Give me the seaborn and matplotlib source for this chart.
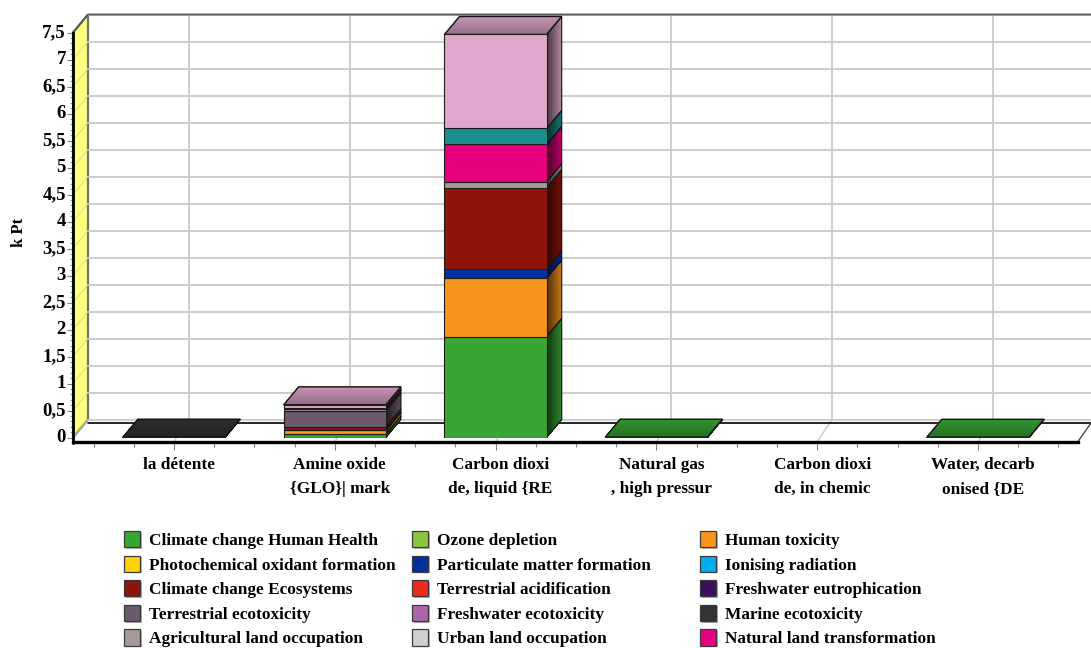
import numpy as np
import pandas as pd
import matplotlib
matplotlib.use("Agg")
import matplotlib.pyplot as plt
import matplotlib.patheffects as pe
from matplotlib.patches import Patch, Polygon
from matplotlib.transforms import Affine2D, IdentityTransform
from matplotlib.ticker import MultipleLocator
import seaborn as sns

# Produits
products = ["la détente", "Amine oxide\n{GLO}| mark", "Carbon dioxi\nde, liquid {RE",
            "Natural gas\n, high pressur", "Carbon dioxi\nde, in chemic", "Water, decarb\nonised {DE"]

# Categories d'impact (les deux dernieres n'ont pas de ligne de legende)
impacts = ["Climate change Human Health", "Ozone depletion", "Human toxicity",
           "Photochemical oxidant formation", "Particulate matter formation", "Ionising radiation",
           "Climate change Ecosystems", "Terrestrial acidification", "Freshwater eutrophication",
           "Terrestrial ecotoxicity", "Freshwater ecotoxicity", "Marine ecotoxicity",
           "Agricultural land occupation", "Urban land occupation", "Natural land transformation",
           "Metal depletion", "Fossil depletion"]
colors = ["#38a635", "#8cc63f", "#f9951f", "#ffd200", "#0030a0", "#00aeef", "#8f1408", "#ee2a1b",
          "#3c0f5e", "#6a5a6c", "#ab66ab", "#333333", "#a79a98", "#cfcfcf", "#e6007e", "#1b8f8c", "#e0a7cc"]

# Valeurs en kPt, une liste par produit
la_detente = [0, 0, 0, 0, 0, 0, 0, 0, 0, 0, 0, 0.006, 0, 0, 0, 0, 0]
amine_oxide = [0.06, 0, 0.07, 0, 0.005, 0, 0.06, 0, 0, 0.30, 0, 0, 0.04, 0, 0.015, 0.005, 0.05]
co2_liquid = [1.87, 0, 1.08, 0, 0.167, 0, 1.51, 0, 0, 0, 0, 0, 0.11, 0, 0.69, 0.296, 1.74]
natural_gas = [0.006, 0, 0, 0, 0, 0, 0, 0, 0, 0, 0, 0, 0, 0, 0, 0, 0]
co2_chemic = [0] * 17
water = [0.004, 0, 0, 0, 0, 0, 0, 0, 0, 0, 0, 0, 0, 0, 0, 0, 0]

y_ticks = [0, 0.5, 1, 1.5, 2, 2.5, 3, 3.5, 4, 4.5, 5, 5.5, 6, 6.5, 7, 7.5]
y_labels = ["0", "0,5", "1", "1,5", "2", "2,5", "3", "3,5", "4", "4,5", "5", "5,5", "6", "6,5", "7", "7,5"]

W, H = 1091, 648
DX, DY = 15, 18  # profondeur 3D en pixels
FONT = "Liberation Serif"

sns.set_theme(style="white")
plt.rcParams["font.family"] = FONT
plt.rcParams["font.weight"] = "bold"

table = pd.DataFrame([la_detente, amine_oxide, co2_liquid, natural_gas, co2_chemic, water],
                     index=products, columns=impacts)

fig = plt.figure(figsize=(W / 100, H / 100), dpi=100, facecolor="white")
ax = fig.add_axes([73 / W, (H - 437.5) / H, 1005 / W, 405 / H])

# Barres empilees, faces avant
bottom = np.zeros(len(products))
for name, col in zip(impacts, colors):
    sns.barplot(x=products, y=table[name].values, order=products, color=col, saturation=1,
                width=0.636, bottom=bottom, edgecolor="#1c1c1c", linewidth=0.8, ax=ax, zorder=4)
    bottom = bottom + table[name].values
for p in ax.patches:
    if p.get_height() == 0:
        p.set_visible(False)

ax.set_xlim(-0.628, 5.622)
ax.set_ylim(0, 7.5)


def px(x, y):
    return ax.transData.transform((x, y))


def poly(points, **kw):
    ax.add_patch(Polygon(points, closed=True, transform=IdentityTransform(), clip_on=False, **kw))


def shade(col, f):
    return tuple(np.array(matplotlib.colors.to_rgb(col)) * f)


x0, y0 = px(ax.get_xlim()[0], 0)
x1, y_top = px(ax.get_xlim()[1], 7.5)

# Paroi jaune a gauche
poly([(x0, y0), (x0 + DX, y0 + DY), (x0 + DX, y_top + DY), (x0, y_top)],
     facecolor="#ffff80", edgecolor="#707070", linewidth=1.6, zorder=1)

# Grille du fond et diagonales
grid = "#c9c9c9"
for v in y_ticks:
    xa, ya = px(ax.get_xlim()[0], v)
    ax.plot([xa + DX, W], [ya + DY, ya + DY], color=grid, lw=1.3, transform=IdentityTransform(),
            clip_on=False, zorder=1)
    ax.plot([xa, xa + DX], [ya, ya + DY], color="#d6d6a0", lw=0.7, transform=IdentityTransform(),
            clip_on=False, zorder=2)
for i in range(len(products)):
    xa, ya = px(i, 0)
    ax.plot([xa + DX, xa + DX], [ya + DY, y_top + DY], color=grid, lw=1.3,
            transform=IdentityTransform(), clip_on=False, zorder=1)
    ax.plot([xa, xa + DX], [ya - 4, ya + DY], color=grid, lw=1,
            transform=IdentityTransform(), clip_on=False, zorder=1)

# Bord haut, fond du plancher et bord droit
ax.plot([x0, x0 + DX, W], [y_top, y_top + DY, y_top + DY], color="#555555", lw=1.3,
        transform=IdentityTransform(), clip_on=False, zorder=2)
ax.plot([x0 + DX, W], [y0 + 14.5, y0 + 14.5], color="black", lw=1.2,
        transform=IdentityTransform(), clip_on=False, zorder=2)
ax.plot([x1, x1 + 13], [y0 - 4, y0 + 14.5], color="#444444", lw=1,
        transform=IdentityTransform(), clip_on=False, zorder=2)

# Faces laterales et dessus des barres, avec degrade
half = 0.636 / 2
for i, prod in enumerate(products):
    level = 0.0
    last = None
    for name, col in zip(impacts, colors):
        v = table.loc[prod, name]
        if v == 0:
            continue
        xr, ya = px(i + half, level)
        _, yb = px(i + half, level + v)
        n = DX
        for k in range(n):
            t = k / n
            a, b = DY * k / n, DY * (k + 1) / n
            poly([(xr + k, ya + a), (xr + k + 1, ya + b), (xr + k + 1, yb + b), (xr + k, yb + a)],
                 facecolor=shade(col, 0.3 + 0.5 * t), edgecolor="none", antialiased=False, zorder=3.2)
        poly([(xr, ya), (xr + DX, ya + DY), (xr + DX, yb + DY), (xr, yb)],
             facecolor="none", edgecolor="#141414", linewidth=0.8, zorder=3.4)
        level += v
        last = col
    if last is None:
        continue
    xl, yb = px(i - half, level)
    xr, _ = px(i + half, level)
    sx = DX / DY
    for k in range(DY):
        t = k / DY
        a, b = k, k + 1
        poly([(xl + a * sx, yb + a), (xr + a * sx, yb + a), (xr + b * sx, yb + b), (xl + b * sx, yb + b)],
             facecolor=shade(last, 0.66 + 0.22 * t), edgecolor="none", antialiased=False, zorder=3.2)
    poly([(xl, yb), (xr, yb), (xr + DX, yb + DY), (xl + DX, yb + DY)],
         facecolor="none", edgecolor="#141414", linewidth=1, zorder=3.4)

# Axes
sns.despine(ax=ax, top=True, right=True)
ax.spines["left"].set_linewidth(2)
ax.spines["left"].set_color("black")
ax.spines["left"].set_zorder(6)
ax.spines["bottom"].set_position(("outward", 2.9))
ax.spines["bottom"].set_linewidth(2.4)
ax.spines["bottom"].set_color("black")
ax.plot([x0, x0], [y0, y0 - 5], color="black", lw=2, transform=IdentityTransform(), clip_on=False, zorder=6)

ax.set_yticks(y_ticks)
ax.set_yticklabels(y_labels, fontsize=13.5, fontweight="bold", color="black")
ax.yaxis.set_minor_locator(MultipleLocator(0.1))
ax.tick_params(axis="y", which="major", left=True, length=4.5, width=0.8, color="#808080", pad=2)
ax.tick_params(axis="y", which="minor", left=True, length=2.5, width=0.7, color="#909090")
for lab in ax.get_yticklabels():
    lab.set_transform(lab.get_transform() + Affine2D().translate(2, 1.5))

ax.set_xticks(range(len(products)))
ax.set_xticklabels(products, fontsize=12.4, fontweight="bold", color="black", linespacing=1.68)
ax.xaxis.set_minor_locator(MultipleLocator(0.25))
ax.tick_params(axis="x", which="major", bottom=True, length=6, width=0.8, color="#808080", pad=5)
ax.tick_params(axis="x", which="minor", bottom=True, length=3.5, width=0.8, color="#808080")
for lab in ax.get_xticklabels():
    lab.set_transform(lab.get_transform() + Affine2D().translate(5, 0))
    lab.set_verticalalignment("top")

ax.set_ylabel("")
fig.text(19 / W, 1 - 232 / H, "k Pt", rotation=90, ha="center", va="center", fontsize=12,
         fontweight="bold", color="black")

# Legende : trois colonnes, lues ligne par ligne (les 15 premieres categories)
for c, left in enumerate([124, 412, 700]):
    idx = list(range(c, 15, 3))
    handles = [Patch(facecolor=colors[j], edgecolor="#3a3a3a", linewidth=0.9,
                     path_effects=[pe.SimplePatchShadow(offset=(1.2, -1.2), alpha=0.35), pe.Normal()])
               for j in idx]
    fig.legend(handles, [impacts[j] for j in idx], loc="upper left",
               bbox_to_anchor=(left / W, 1 - 531 / H), frameon=False, borderpad=0, borderaxespad=0,
               handlelength=0.95, handleheight=1.07, handletextpad=0.53, labelspacing=0.385,
               labelcolor="black", prop={"family": FONT, "weight": "bold", "size": 12.4})

fig.savefig("out.png", dpi=100, facecolor="white")
